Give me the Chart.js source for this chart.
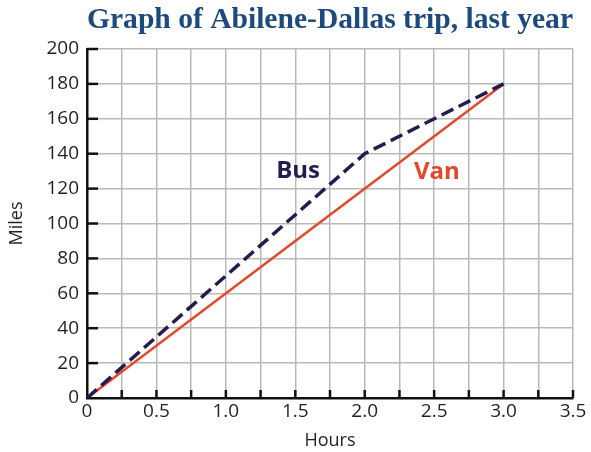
<!DOCTYPE html>
<html>
<head>
<meta charset="utf-8">
<script src="https://cdn.jsdelivr.net/npm/chart.js@4"></script>
<style>
  html, body { margin: 0; padding: 0; background: #ffffff; }
  #wrap { width: 591px; height: 452px; position: relative; }
</style>
</head>
<body>
<div id="wrap"><canvas id="chart"></canvas></div>
<script>
// data
var hours = [0, 2.0, 3.0];
var busMiles = [0, 140, 180];
var vanHours = [0, 3.0];
var vanMiles = [0, 180];
var titleText = 'Graph of Abilene-Dallas trip, last year';
var seriesNames = ['Bus', 'Van'];
var labelSpots = [[1.52, 130], [2.52, 129.5]];

var busColor = '#221c50';
var vanColor = '#e5472b';

function toPoints(xs, ys){
    var pts = [];
    for(let i = 0; i < xs.length; i++){
        pts.push({x: xs[i], y: ys[i]});
    }
    return pts;
}

// short black ticks pointing into the plot, plus the line labels
var innerTicks = {
    id: 'innerTicks',
    afterDatasetsDraw(chart){
        let ctx = chart.ctx;
        let xs = chart.scales.x, ys = chart.scales.y;
        ctx.save();
        ctx.strokeStyle = '#111111';
        ctx.lineWidth = 2.5;
        xs.ticks.forEach(function(t){
            if(t.value === 0) return;
            let px = xs.getPixelForValue(t.value);
            ctx.beginPath();
            ctx.moveTo(px, ys.bottom);
            ctx.lineTo(px, ys.bottom - 8);
            ctx.stroke();
        });
        ys.ticks.forEach(function(t){
            if(t.value === 0) return;
            let py = ys.getPixelForValue(t.value);
            ctx.beginPath();
            ctx.moveTo(xs.left, py);
            ctx.lineTo(xs.left + 11, py);
            ctx.stroke();
        });
        ctx.font = 'bold 24px "Open Sans", sans-serif';
        ctx.textAlign = 'center';
        ctx.textBaseline = 'middle';
        let cols = [busColor, vanColor];
        for(let i = 0; i < seriesNames.length; i++){
            ctx.fillStyle = cols[i];
            ctx.fillText(seriesNames[i], xs.getPixelForValue(labelSpots[i][0]), ys.getPixelForValue(labelSpots[i][1]));
        }
        ctx.restore();
    }
};

var tickFont = {family: '"Open Sans", sans-serif', size: 19};

new Chart(document.getElementById('chart'), {
    type: 'line',
    data: {
        datasets: [{
            label: seriesNames[0],
            data: toPoints(hours, busMiles),
            borderColor: busColor,
            borderWidth: 3.5,
            borderDash: [13, 6],
            pointRadius: 0,
            fill: false
        }, {
            label: seriesNames[1],
            data: toPoints(vanHours, vanMiles),
            borderColor: vanColor,
            borderWidth: 2.5,
            pointRadius: 0,
            fill: false
        }]
    },
    options: {
        responsive: true,
        maintainAspectRatio: false,
        animation: false,
        layout: { padding: {left: 6, right: 0, top: 0, bottom: 0} },
        plugins: {
            legend: { display: false },
            tooltip: { enabled: false },
            title: {
                display: true,
                fullSize: false,
                text: titleText,
                color: '#1d4a7c',
                font: {family: '"Liberation Serif", serif', size: 30, weight: 'bold'},
                padding: {top: 2, bottom: 11}
            }
        },
        scales: {
            x: {
                type: 'linear',
                min: 0,
                max: 3.5,
                grid: { color: '#b9b9b9', lineWidth: 1.5, drawTicks: false },
                border: { color: '#111111', width: 2.5 },
                afterFit: function(s){ s.height = 54; s.paddingRight = 18; },
                ticks: {
                    stepSize: 0.25,
                    autoSkip: false,
                    maxRotation: 0,
                    color: '#231f20',
                    font: tickFont,
                    padding: 2,
                    callback: function(v){
                        if(Math.abs(v * 2 - Math.round(v * 2)) > 1e-6) return '';
                        return v === 0 ? '0' : v.toFixed(1);
                    }
                },
                title: {
                    display: true,
                    text: 'Hours',
                    color: '#231f20',
                    font: {family: '"Open Sans", sans-serif', size: 18},
                    padding: {top: 0, bottom: 0}
                }
            },
            y: {
                min: 0,
                max: 200,
                grid: { color: '#b9b9b9', lineWidth: 1.5, drawTicks: false },
                border: { color: '#111111', width: 2.5 },
                afterFit: function(s){ s.width = 81; },
                ticks: {
                    stepSize: 20,
                    color: '#231f20',
                    font: tickFont,
                    padding: 8
                },
                title: {
                    display: true,
                    text: 'Miles',
                    color: '#231f20',
                    font: {family: '"Open Sans", sans-serif', size: 18},
                    padding: {top: 0, bottom: 6}
                }
            }
        }
    },
    plugins: [innerTicks]
});
</script>
</body>
</html>
